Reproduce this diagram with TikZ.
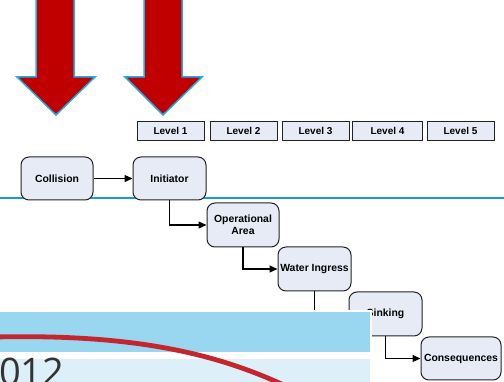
\documentclass[tikz,border=0pt]{standalone}
\usepackage{fontspec}
\setmainfont{Liberation Sans}
\newfontfamily\digitfont{Open Sans}
\usetikzlibrary{arrows.meta}
\definecolor{boxfill}{HTML}{E6EBF6}
\definecolor{boxline}{HTML}{222222}
\definecolor{arrred}{HTML}{C00000}
\definecolor{arrblue}{HTML}{1BB0E6}
\definecolor{rule}{HTML}{1A9BD7}
\definecolor{bandA}{HTML}{99D6EF}
\definecolor{bandB}{HTML}{DDF0FA}
\definecolor{curve}{HTML}{C4262E}
\definecolor{digit}{HTML}{333333}
\tikzset{
  stepbox/.style={draw=boxline, line width=1pt, fill=boxfill, rounded corners=8pt,
    minimum width=72pt, minimum height=43pt, inner sep=1pt, align=center,
    font=\fontsize{10.4}{11.8}\selectfont\bfseries},
  levelbox/.style={draw=boxline, line width=0.9pt, fill=boxfill,
    minimum width=67pt, minimum height=19pt, inner sep=0pt,
    font=\fontsize{10}{11}\selectfont\bfseries},
  conn/.style={draw=black, line width=1.1pt, -{Triangle[length=8pt,width=7pt]}},
  bigarrow/.style={fill=arrred, draw=arrblue, line width=1.5pt, line join=miter},
}
\begin{document}
\begin{tikzpicture}[x=1pt,y=-1pt]
\useasboundingbox (0,0) rectangle (504,382);
% red arrows
\draw[bigarrow] (36,-5) -- (74,-5) -- (74,77) -- (95,77) -- (56,115) -- (17,77) -- (36,77) -- cycle;
\draw[bigarrow] (144,-5) -- (182,-5) -- (182,77) -- (202,77) -- (163,115) -- (125,77) -- (144,77) -- cycle;
% level boxes
\node[levelbox] (l1) at (170.5,130.5) {Level 1};
\node[levelbox] (l2) at (243.5,130.5) {Level 2};
\node[levelbox] (l3) at (315.5,130.5) {Level 3};
\node[levelbox, minimum width=70pt] (l4) at (387.5,130.5) {Level 4};
\node[levelbox] (l5) at (460.5,130.5) {Level 5};
% blue rule
\draw[rule, line width=2pt] (0,198) -- (504,198);
% step boxes
\node[stepbox] (col) at (57,178.5) {Collision};
\node[stepbox, minimum width=73pt] (ini) at (169.5,178.5) {Initiator};
\node[stepbox, minimum height=44pt] (ope) at (243,225) {Operational\\Area};
\node[stepbox, minimum width=73pt, minimum height=44pt] (wat) at (314.5,269) {Water Ingress};
\node[stepbox, minimum width=73pt, minimum height=44pt] (sin) at (385.5,314) {Sinking};
\node[stepbox, minimum width=80pt] (con) at (461,358.5) {Consequences};
% connectors
\draw[conn] (col.east) -- (ini.west);
\draw[conn] (ini.south) |- (ope.west);
\draw[conn] (ope.south) |- (wat.west);
\draw[conn] (wat.south) |- (sin.west);
\draw[conn] (sin.south) |- (con.west);
% overlay
\fill[white] (0,310) rectangle (372,384);
\fill[bandA] (0,312) rectangle (370,352);
\fill[bandB] (0,359) rectangle (370,384);
\begin{scope}
\clip (0,310) rectangle (370,384);
\draw[curve, line width=4.8pt] (-5,337) .. controls (130,334) and (215,352) .. (290,388);
\end{scope}
\node[anchor=base west, inner sep=0pt, text=digit, font=\digitfont\fontsize{38}{40}\selectfont] (yr) at (-1,385) {012};
\end{tikzpicture}
\end{document}
